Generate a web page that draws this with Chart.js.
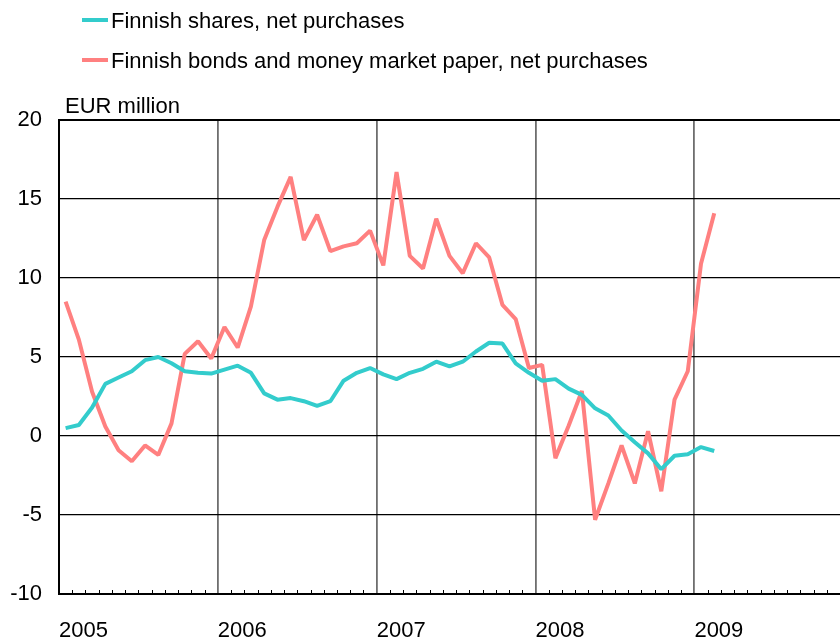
<!DOCTYPE html>
<html><head><meta charset="utf-8">
<script src="https://cdn.jsdelivr.net/npm/chart.js@4/dist/chart.umd.min.js"></script>
<style>html,body{margin:0;padding:0;background:#fff;}#wrap{width:840px;height:639px;position:relative;}</style>
</head><body><div id="wrap"><canvas id="c" width="840" height="639"></canvas></div>
<script>
// ---- data ----
const startYear = 2005;
const yearLabels = ['2005', '2006', '2007', '2008', '2009'];
const unitLabel = 'EUR million';
const sharesLabel = 'Finnish shares, net purchases';
const bondsLabel = 'Finnish bonds and money market paper, net purchases';
// monthly values, Jan 2005 - Feb 2009
const shares = [0.5, 0.7, 1.8, 3.3, 3.7, 4.1, 4.8, 5.0, 4.6, 4.1, 4.0, 3.95,
                4.2, 4.45, 4.0, 2.7, 2.3, 2.4, 2.2, 1.9, 2.2, 3.5, 4.0, 4.3,
                3.9, 3.6, 4.0, 4.25, 4.7, 4.4, 4.7, 5.35, 5.9, 5.85, 4.6, 4.0,
                3.5, 3.6, 3.0, 2.6, 1.75, 1.3, 0.35, -0.4, -1.1, -2.1, -1.25, -1.15,
                -0.7, -0.95];
const bonds = [8.5, 6.1, 2.8, 0.6, -0.9, -1.6, -0.6, -1.2, 0.8, 5.2, 6.0, 4.9,
               6.9, 5.6, 8.2, 12.4, 14.5, 16.4, 12.4, 14.0, 11.7, 12.0, 12.2, 13.0,
               10.8, 16.7, 11.4, 10.6, 13.75, 11.4, 10.3, 12.2, 11.3, 8.3, 7.4, 4.3,
               4.5, -1.4, 0.65, 2.85, -5.3, -3.0, -0.6, -3.0, 0.3, -3.5, 2.3, 4.1,
               10.9, 14.1];
const yTicks = [-10, -5, 0, 5, 10, 15, 20];

// ---- chart ----
const FONT = "'Liberation Sans', Arial, sans-serif";
const FS = 22;
const monthsShown = 59;

const toPoints = arr => arr.map((v, i) => ({ x: i + 0.5, y: v }));

const decor = {
  id: 'decor',
  afterDraw(chart) {
    const ctx = chart.ctx;
    const xs = chart.scales.x;
    const area = chart.chartArea;
    ctx.save();
    // monthly minor ticks inside the bottom axis
    ctx.strokeStyle = '#000';
    ctx.lineWidth = 1;
    for (let m = 1; m < monthsShown; m++) {
      if (m % 12 === 0) continue;
      const px = Math.round(xs.getPixelForValue(m)) + 0.5;
      ctx.beginPath();
      ctx.moveTo(px, area.bottom);
      ctx.lineTo(px, area.bottom - 4);
      ctx.stroke();
    }
    // legend
    ctx.font = FS + 'px ' + FONT;
    ctx.textBaseline = 'alphabetic';
    ctx.textAlign = 'left';
    chart.data.datasets.forEach((ds, i) => {
      const y = 20 + 40 * i;
      ctx.strokeStyle = ds.borderColor;
      ctx.lineWidth = 4;
      ctx.beginPath();
      ctx.moveTo(82, y);
      ctx.lineTo(108, y);
      ctx.stroke();
      ctx.fillStyle = '#000';
      ctx.fillText(ds.label, 111, y + 8);
    });
    // unit label
    ctx.fillText(unitLabel, 65, 113);
    ctx.restore();
  }
};

new Chart(document.getElementById('c'), {
  type: 'line',
  data: {
    datasets: [
      { label: sharesLabel, data: toPoints(shares), borderColor: 'rgb(51,204,204)',
        backgroundColor: 'rgb(51,204,204)', borderWidth: 4, pointRadius: 0, tension: 0,
        fill: false, borderJoinStyle: 'bevel' },
      { label: bondsLabel, data: toPoints(bonds), borderColor: 'rgb(255,128,128)',
        backgroundColor: 'rgb(255,128,128)', borderWidth: 4, pointRadius: 0, tension: 0,
        fill: false, borderJoinStyle: 'bevel' }
    ]
  },
  options: {
    responsive: false,
    animation: false,
    layout: { padding: { top: 120, right: 0, bottom: 0, left: 0 } },
    plugins: { legend: { display: false }, title: { display: false }, tooltip: { enabled: false } },
    scales: {
      x: {
        type: 'linear', min: 0, max: monthsShown,
        afterBuildTicks: s => { s.ticks = yearLabels.map((_, k) => ({ value: k * 12 })); },
        afterFit: s => { s.height = 45; },
        ticks: {
          autoSkip: false, maxRotation: 0, minRotation: 0, align: 'start', padding: 24,
          color: '#000', font: { family: FONT, size: FS },
          callback: v => yearLabels[Math.round(v / 12)]
        },
        grid: {
          drawTicks: false,
          color: c => (c.tick && c.tick.value === 0) ? '#000' : '#6e6e6e',
          lineWidth: 1.8
        },
        border: { display: true, color: '#000', width: 2 }
      },
      y: {
        min: -10, max: 20,
        afterBuildTicks: s => { s.ticks = yTicks.map(v => ({ value: v })); },
        afterFit: s => { s.width = 59; },
        ticks: { padding: 17, color: '#000', font: { family: FONT, size: FS } },
        grid: {
          drawTicks: false, color: '#000',
          lineWidth: c => (c.tick && c.tick.value === 20) ? 2 : 1.3
        },
        border: { display: true, color: '#000', width: 2 }
      }
    }
  },
  plugins: [decor]
});
</script></body></html>
